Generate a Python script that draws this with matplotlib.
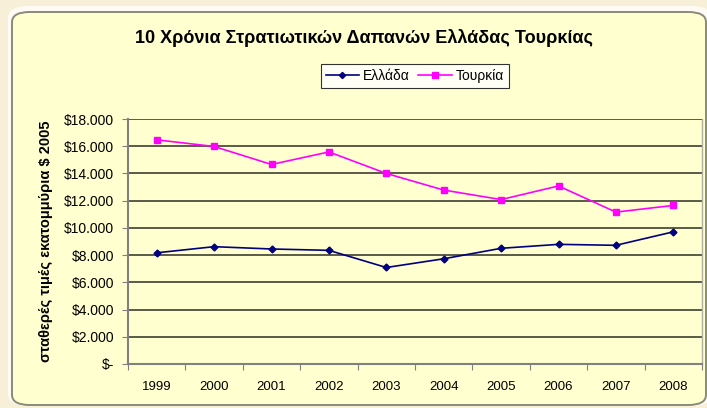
import numpy as np
import matplotlib.pyplot as plt
from matplotlib.patches import FancyBboxPatch

plt.rcParams['font.family'] = ['Liberation Sans', 'DejaVu Sans']

# data
years = ["1999", "2000", "2001", "2002", "2003", "2004", "2005", "2006", "2007", "2008"]
greece = [8170, 8620, 8450, 8350, 7090, 7730, 8500, 8790, 8720, 9710]
turkey = [16470, 15980, 14660, 15580, 14000, 12780, 12080, 13080, 11160, 11650]
y_ticks = [0, 2000, 4000, 6000, 8000, 10000, 12000, 14000, 16000, 18000]
y_labels = ["$-", "$2.000", "$4.000", "$6.000", "$8.000", "$10.000",
            "$12.000", "$14.000", "$16.000", "$18.000"]

fig = plt.figure(figsize=(7.07, 4.08), dpi=100)
fig.patch.set_facecolor("#f8efd9")

# chart area (rounded box), drawn behind the axes
glow = FancyBboxPatch((8 / 707, 2 / 408), 704 / 707, 400 / 408,
                      boxstyle="round,pad=0,rounding_size=0.03",
                      transform=fig.transFigure, facecolor="#fdfbf3",
                      edgecolor="none", zorder=-11)
box = FancyBboxPatch((12 / 707, 3 / 408), 694 / 707, 393 / 408,
                     boxstyle="round,pad=0,rounding_size=0.025",
                     transform=fig.transFigure, facecolor="#ffffcf",
                     edgecolor="#8a8a7a", linewidth=1.4, zorder=-10)
fig.patches.extend([glow, box])

ax = fig.add_axes([128 / 707, 1 - 364 / 408, 574 / 707, 245 / 408])
ax.set_facecolor("#ffffcf")

x = np.arange(len(years))
ax.plot(x, greece, color="#000080", marker="D", markersize=3.5, lw=1.2, label="Ελλάδα")
ax.plot(x, turkey, color="#ff00ff", marker="s", markersize=5, lw=1.2, label="Τουρκία")

ax.set_xlim(-0.5, len(years) - 0.5)
ax.set_ylim(0, 18000)
ax.set_yticks(y_ticks)
ax.set_yticklabels(y_labels, fontsize=10)
ax.yaxis.grid(True, color="#5a5a4a", lw=1.4)
ax.set_axisbelow(True)

# category ticks between labels
ax.set_xticks(np.arange(-0.5, len(years), 1.0))
ax.set_xticklabels([])
ax.set_xticks(x, minor=True)
ax.set_xticklabels(years, minor=True, fontsize=9.5)
ax.tick_params(axis="x", which="minor", length=0, pad=12)
ax.tick_params(axis="x", which="major", length=4, color="#808080")
ax.tick_params(axis="y", length=4, color="#808080", pad=6)

ax.spines["top"].set_visible(False)
ax.spines["right"].set_color("#b0b0a0")
ax.spines["right"].set_linewidth(1.0)
for s in ["left", "bottom"]:
    ax.spines[s].set_color("#808080")
    ax.spines[s].set_linewidth(1.5)

ax.set_ylabel("σταθερές τιμές εκατομμύρια $ 2005", fontsize=10.5, fontweight="bold", labelpad=8)

fig.text(364 / 707, 1 - 38 / 408, "10 Χρόνια Στρατιωτικών Δαπανών Ελλάδας Τουρκίας",
         ha="center", va="center", fontsize=13, fontweight="bold")

leg = fig.legend(loc="center", bbox_to_anchor=(415 / 707, 1 - 76 / 408), ncol=2,
                 fontsize=10, frameon=True, fancybox=False, edgecolor="#000000",
                 handlelength=2.4, handletextpad=0.3, columnspacing=0.6,
                 borderpad=0.35, markerscale=0.9)
leg.get_frame().set_facecolor("white")
leg.get_frame().set_linewidth(0.8)

fig.savefig("out.png", dpi=100, facecolor=fig.get_facecolor())
